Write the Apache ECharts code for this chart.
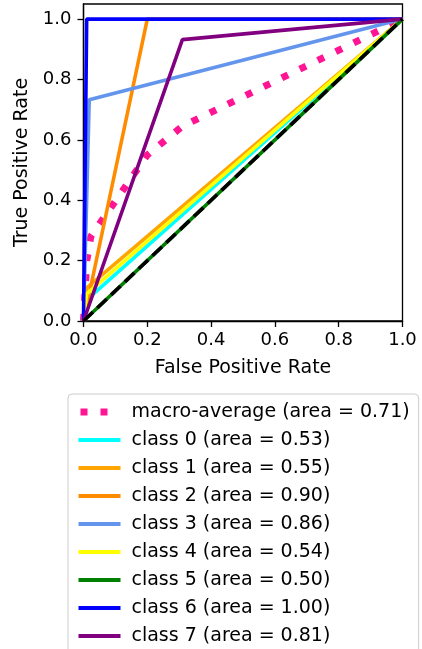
<!DOCTYPE html>
<html>
<head>
<meta charset="utf-8">
<script src="https://cdn.jsdelivr.net/npm/echarts@6/dist/echarts.min.js"></script>
<style>
html,body{margin:0;padding:0;background:#fff;}
#c{width:422px;height:649px;}
</style>
</head>
<body>
<div id="c"></div>
<script>
// ---- data ----
var seriesNames = [
  'macro-average (area = 0.71)',
  'class 0 (area = 0.53)',
  'class 1 (area = 0.55)',
  'class 2 (area = 0.90)',
  'class 3 (area = 0.86)',
  'class 4 (area = 0.54)',
  'class 5 (area = 0.50)',
  'class 6 (area = 1.00)',
  'class 7 (area = 0.81)'
];
var seriesColors = ['#ff1493','#00ffff','#ffa500','#ff8c00','#6495ed','#ffff00','#008000','#0000ff','#800080'];
var macroPoints  = [[0,0],[0.01,0.20],[0.012,0.21],[0.023,0.28],[0.2,0.55],[0.31,0.645],[1,1]];
var class0Points = [[0,0],[0.01,0.07],[1,1]];
var class1Points = [[0,0],[0.01,0.11],[1,1]];
var class2Points = [[0,0],[0.2,1.0],[1,1]];
var class3Points = [[0,0],[0.018,0.733],[1,1]];
var class4Points = [[0,0],[0.01,0.09],[1,1]];
var class5Points = [[0,0],[1,1]];
var class6Points = [[0,0],[0.01,1.0],[1,1]];
var class7Points = [[0,0],[0.31,0.932],[1,1]];
var chancePoints = [[0,0],[1,1]];
var tickValues = [0,0.2,0.4,0.6,0.8,1.0];

var classPoints = [class0Points,class1Points,class2Points,class3Points,class4Points,class5Points,class6Points,class7Points];

var FONT = 'DejaVu Sans';
var series = [];
series.push({
  name: seriesNames[0], type: 'line', data: macroPoints, symbol: 'none', showSymbol: false,
  lineStyle: {color: seriesColors[0], width: 7, type: [7,13], cap: 'butt'},
  itemStyle: {color: seriesColors[0]}
});
for (var i = 0; i < classPoints.length; i++) {
  series.push({
    name: seriesNames[i+1], type: 'line', data: classPoints[i], symbol: 'none', showSymbol: false,
    lineStyle: {color: seriesColors[i+1], width: 3.6, cap: 'butt'},
    itemStyle: {color: seriesColors[i+1]}
  });
}
series.push({
  name: 'chance', type: 'line', data: chancePoints, symbol: 'none',
  lineStyle: {color: '#000', width: 3.6, type: [13,6], cap: 'butt'},
  itemStyle: {color: '#000'}
});

var legendData = seriesNames.map(function(n, k){
  if (k === 0) return {name: n, lineStyle: {width: 7, type: [7,13], dashOffset: 18, cap: 'butt'}};
  return {name: n, lineStyle: {width: 4, cap: 'butt'}};
});

var chart = echarts.init(document.getElementById('c'), null, {renderer: 'canvas'});
chart.setOption({
  animation: false,
  backgroundColor: '#fff',
  textStyle: {fontFamily: FONT},
  grid: {left: 83.5, right: 19.5, top: 4, bottom: 328, show: true, borderColor: '#000', borderWidth: 1.3, backgroundColor: 'transparent'},
  xAxis: {
    type: 'value', min: 0, max: 1, interval: 0.2,
    name: 'False Positive Rate', nameLocation: 'middle', nameGap: 38,
    nameTextStyle: {fontFamily: FONT, fontSize: 19, color: '#000'},
    axisLine: {show: true, lineStyle: {color: '#000', width: 1.3}},
    axisTick: {show: true, length: 6, lineStyle: {color: '#000', width: 1.3}, customValues: tickValues},
    axisLabel: {fontFamily: FONT, fontSize: 18, color: '#000', margin: 10, customValues: tickValues,
      formatter: function(v){ return v.toFixed(1); }},
    splitLine: {show: false}
  },
  yAxis: {
    type: 'value', min: 0, max: 1.05, interval: 0.2,
    name: 'True Positive Rate', nameLocation: 'middle', nameGap: 45, nameRotate: 90,
    nameTextStyle: {fontFamily: FONT, fontSize: 19, color: '#000'},
    axisLine: {show: true, lineStyle: {color: '#000', width: 1.3}},
    axisTick: {show: true, length: 6, lineStyle: {color: '#000', width: 1.3}, customValues: tickValues},
    axisLabel: {fontFamily: FONT, fontSize: 18, color: '#000', margin: 12, customValues: tickValues,
      formatter: function(v){ return v.toFixed(1); }},
    splitLine: {show: false}
  },
  legend: {
    data: legendData,
    orient: 'vertical', left: 68, top: 394, height: 300,
    padding: [8, 9, 7, 7],
    itemWidth: 42, itemHeight: 20, itemGap: 8,
    backgroundColor: 'rgba(255,255,255,0.8)',
    borderColor: '#cccccc', borderWidth: 1, borderRadius: 4,
    selectedMode: false,
    itemStyle: {opacity: 0, borderWidth: 0},
    lineStyle: {width: 4},
    textStyle: {fontFamily: FONT, fontSize: 19, color: '#000', lineHeight: 20, padding: [0,0,0,6]}
  },
  series: series
});
</script>
</body>
</html>
